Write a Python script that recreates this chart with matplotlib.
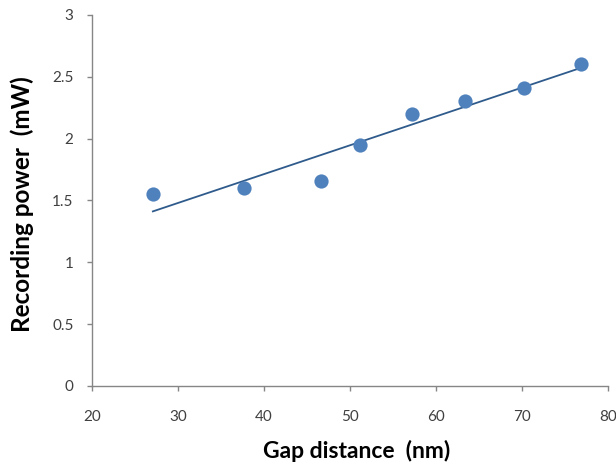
import numpy as np
import matplotlib
matplotlib.use("Agg")
import matplotlib.pyplot as plt

# gap distance (nm) vs recording power (mW)
gap_nm = [27.1, 37.7, 46.6, 51.2, 57.2, 63.4, 70.2, 76.9]
power_mw = [1.55, 1.60, 1.66, 1.95, 2.20, 2.30, 2.41, 2.60]
x_ticks = [20, 30, 40, 50, 60, 70, 80]
y_ticks = [0, 0.5, 1, 1.5, 2, 2.5, 3]
y_ticklabels = ["0", "0.5", "1", "1.5", "2", "2.5", "3"]

plt.rcParams["font.family"] = ["Lato", "DejaVu Sans"]
AXIS = "#868686"
BLUE = "#4F81BD"

fig = plt.figure(figsize=(6.16, 4.65), dpi=100)
ax = fig.add_axes([0.149, 0.170, 0.838, 0.798])

ax.scatter(gap_nm, power_mw, s=105, color=BLUE, zorder=3, linewidths=0)

# linear trendline over the data range
x = np.array(gap_nm)
slope, intercept = np.polyfit(x, np.array(power_mw), 1)
xs = np.array([x.min(), x.max()])
ax.plot(xs, slope * xs + intercept, color="#2F5B8C", lw=1.3, zorder=2)

ax.set_xlim(20, 80)
ax.set_ylim(0, 3)
ax.set_xticks(x_ticks)
ax.set_yticks(y_ticks)
ax.set_yticklabels(y_ticklabels)
ax.spines[["top", "right"]].set_visible(False)
for s in ("left", "bottom"):
    ax.spines[s].set_color(AXIS)
    ax.spines[s].set_linewidth(1.0)
ax.tick_params(axis="both", direction="out", length=3.6, width=1, color=AXIS,
               labelsize=11, labelcolor="#404040")
ax.tick_params(axis="x", pad=14)
ax.tick_params(axis="y", pad=9.5)
ax.set_xlabel("Gap distance  (nm)", fontsize=16.5, fontweight="bold")
ax.set_ylabel("Recording power  (mW)", fontsize=17.5, fontweight="bold")
ax.xaxis.set_label_coords(0.513, -0.146)
ax.yaxis.set_label_coords(-0.112, 0.49)

fig.savefig("out.png", dpi=100)
